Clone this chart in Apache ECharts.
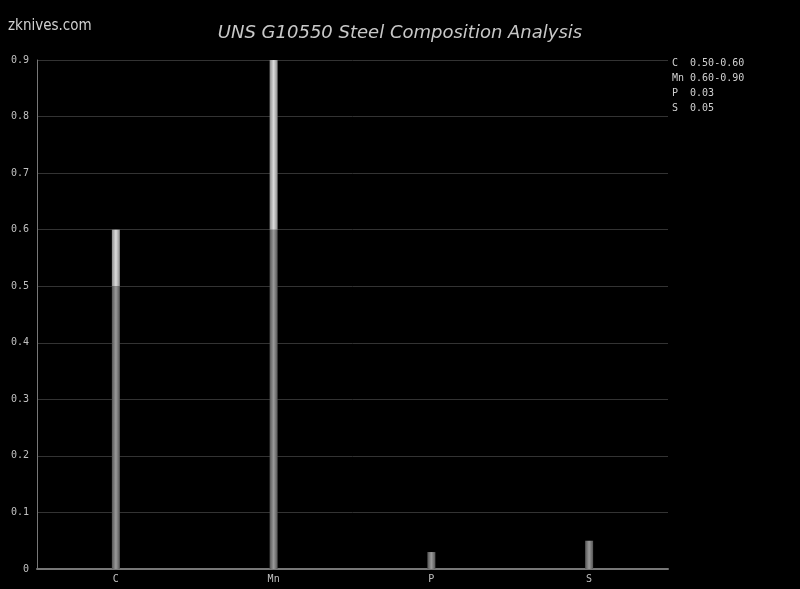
<!DOCTYPE html>
<html><head><meta charset="utf-8">
<script src="https://cdn.jsdelivr.net/npm/echarts@6/dist/echarts.min.js"></script>
<style>html,body{margin:0;padding:0;background:#000;}#c{width:800px;height:589px;}</style>
</head><body><div id="c"></div>
<script>
const categories = ['C', 'Mn', 'P', 'S'];
const minValues = [0.50, 0.60, 0.03, 0.05];
const maxValues = [0.60, 0.90, 0.03, 0.05];
const rangeLabels = ['0.50-0.60', '0.60-0.90', '0.03', '0.05'];
const yTicks = [0, 0.1, 0.2, 0.3, 0.4, 0.5, 0.6, 0.7, 0.8, 0.9];

const chart = echarts.init(document.getElementById('c'));
const mono = 'DejaVu Sans Mono';
function grad(edge, mid) {
  return new echarts.graphic.LinearGradient(0, 0, 1, 0, [
    {offset: 0, color: edge}, {offset: 0.5, color: mid}, {offset: 1, color: edge}
  ]);
}
const legendText = categories.map((c, i) => (c + '  ').slice(0, 3) + rangeLabels[i]);
chart.setOption({
  backgroundColor: '#000',
  animation: false,
  title: {
    text: 'UNS G10550 Steel Composition Analysis',
    left: 'center', top: 19,
    textStyle: {color: '#c8c8c8', fontSize: 18, fontStyle: 'italic', fontWeight: 'normal', fontFamily: 'DejaVu Sans'}
  },
  graphic: [
    {type: 'text', left: 8, top: 19, style: {text: 'zknives.com', fill: '#d0d0d0', fontSize: 15, fontFamily: 'DejaVu Sans Condensed'}},
    ...legendText.map((t, i) => ({
      type: 'text', left: 672, top: 58 + i * 15,
      style: {text: t, fill: '#d0d0d0', fontSize: 10, fontFamily: mono}
    }))
  ],
  grid: {left: 37, right: 132, top: 60, bottom: 20},
  xAxis: {
    type: 'category', data: categories,
    axisLine: {lineStyle: {color: '#777', width: 2}},
    axisTick: {show: false},
    axisLabel: {color: '#c0c0c0', fontSize: 10, fontFamily: mono, margin: 5}
  },
  yAxis: {
    type: 'value', min: 0, max: yTicks[yTicks.length - 1], interval: 0.1,
    axisLine: {show: true, lineStyle: {color: '#777', width: 1}},
    axisTick: {show: false},
    axisLabel: {color: '#c0c0c0', fontSize: 10, fontFamily: mono, margin: 8,
      formatter: v => { const r = Math.round(v * 10) / 10; return yTicks.includes(r) ? String(r) : ''; }},
    splitLine: {lineStyle: {color: '#333', width: 1}}
  },
  series: [
    {
      type: 'bar', stack: 's', barWidth: 8, data: minValues,
      itemStyle: {color: grad('#555', '#9a9a9a')}
    },
    {
      type: 'bar', stack: 's', barWidth: 8,
      data: maxValues.map((v, i) => Math.round((v - minValues[i]) * 1000) / 1000),
      itemStyle: {color: grad('#8a8a8a', '#dcdcdc')}
    }
  ]
});
</script></body></html>
